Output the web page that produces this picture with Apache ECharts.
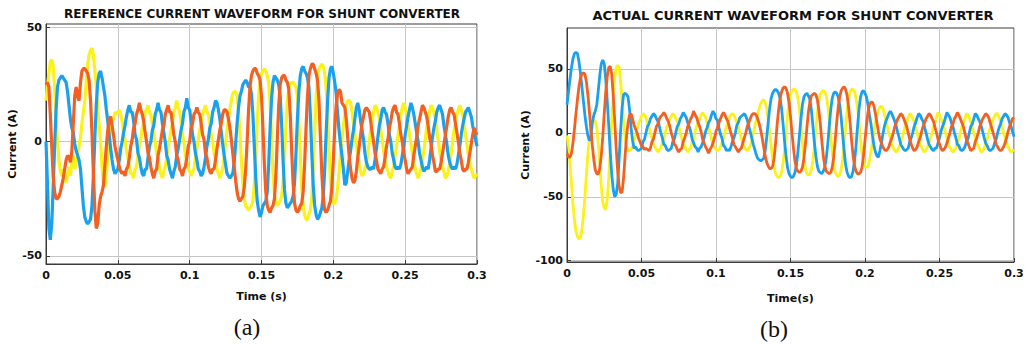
<!DOCTYPE html>
<html>
<head>
<meta charset="utf-8">
<title>Shunt converter current waveforms</title>
<script src="https://cdn.jsdelivr.net/npm/echarts@6/dist/echarts.min.js"></script>
<style>
  html, body { margin: 0; padding: 0; background: #fff; }
  #chart { width: 1027px; height: 344px; }
</style>
</head>
<body>
<div id="chart"></div>
<script>
// samples every 1 ms from 0 to 0.3 s
var timeStep = 0.001;
var timeTicks = [0, 0.05, 0.1, 0.15, 0.2, 0.25, 0.3];
var refTicks = [-50, 0, 50];
var actTicks = [-100, -50, 0, 50];

// (a) reference current
var refBlue = [
  0, -18, -38, -43, -36, -20, -2, 14, 24, 27,
  28, 29, 28, 27, 26, 22, 16, 10, 6, 4,
  -1, -4, -6, -8, -12, -20, -28, -33, -35, -36,
  -35, -34, -28, -15, 2, 16, 26, 30, 31, 28,
  24, 20, 14, 9, 3, -3, -8, -12, -14, -13,
  -12, -8, -3, 0, 4, 7, 11, 14, 16, 13,
  13, 9, 3, 1, -5, -7, -11, -14, -15, -12,
  -12, -7, -2, 0, 5, 7, 12, 14, 17, 14,
  13, 8, 4, 0, -6, -8, -12, -14, -16, -13,
  -11, -6, -3, 1, 5, 8, 13, 15, 19, 15,
  14, 9, 3, 0, -5, -8, -12, -13, -15, -14,
  -11, -7, -2, 1, 6, 8, 13, 15, 18, 17,
  14, 10, 4, -1, -6, -10, -14, -15, -16, -15,
  -14, -9, -1, 8, 15, 20, 22, 25, 26, 27,
  26, 24, 24, 21, 12, -2, -16, -26, -30, -33,
  -31, -28, -27, -26, -22, -10, 6, 19, 26, 29,
  28, 27, 25, 20, 8, -8, -21, -27, -29, -28,
  -27, -26, -24, -18, -5, 10, 22, 29, 32, 33,
  31, 30, 28, 24, 12, -5, -19, -28, -32, -34,
  -33, -31, -29, -24, -12, 4, 18, 28, 32, 33,
  30, 26, 21, 12, 5, -1, -6, -12, -19, -18,
  -13, -8, -4, 1, 5, 10, 15, 17, 14, 9,
  5, 1, -5, -9, -11, -12, -12, -11, -12, -8,
  -3, 2, 7, 10, 14, 15, 13, 12, 8, 3,
  0, -5, -8, -11, -12, -11, -12, -10, -6, -2,
  3, 7, 11, 14, 17, 15, 12, 8, 4, 0,
  -5, -8, -11, -13, -12, -11, -12, -8, -3, 2,
  6, 9, 13, 15, 16, 14, 12, 7, 3, -1,
  -6, -9, -11, -12, -11, -12, -10, -6, -2, 3,
  7, 10, 13, 14, 15, 13, 11, 7, 4, 1,
  -2
];
var refOrange = [
  25, 26, 24, 12, -2, -15, -22, -25, -25, -24,
  -22, -19, -16, -12, -8, -6, -7, -9, -4, 8,
  20, 24, 20, 18, 26, 31, 32, 32, 31, 30,
  27, 18, 4, -14, -30, -38, -36, -28, -24, -22,
  -19, -10, -2, 5, 10, 11, 7, 3, -2, -5,
  -8, -11, -13, -14, -13, -15, -12, -11, -7, -2,
  1, 6, 8, 12, 14, 17, 14, 12, 9, 4,
  0, -5, -7, -11, -14, -16, -13, -12, -6, -3,
  1, 5, 7, 12, 14, 16, 13, 13, 8, 3,
  0, -6, -8, -12, -13, -15, -12, -11, -7, -2,
  0, 6, 8, 12, 13, 15, 13, 12, 8, 3,
  1, -5, -7, -11, -13, -14, -12, -12, -8, -3,
  1, 5, 8, 12, 14, 14, 13, 10, 6, 1,
  -5, -11, -17, -22, -25, -26, -25, -24, -20, -12,
  0, 14, 24, 29, 31, 32, 32, 30, 29, 27,
  20, 6, -10, -22, -28, -30, -31, -29, -28, -25,
  -15, 1, 16, 25, 28, 29, 29, 27, 26, 23,
  12, -4, -18, -27, -30, -31, -30, -28, -27, -22,
  -10, 6, 20, 29, 32, 34, 34, 32, 30, 27,
  18, 2, -14, -25, -30, -31, -30, -28, -26, -20,
  -8, 6, 16, 21, 23, 22, 17, 16, 15, 10,
  2, -6, -12, -16, -18, -17, -13, -7, -2, 3,
  8, 11, 14, 15, 14, 13, 9, 4, 0, -5,
  -8, -12, -13, -14, -12, -11, -7, -2, 1, 6,
  9, 13, 15, 16, 13, 12, 8, 3, 0, -5,
  -8, -12, -14, -13, -12, -11, -6, -2, 2, 7,
  10, 13, 16, 15, 13, 11, 7, 2, -1, -6,
  -9, -13, -13, -12, -12, -9, -5, -1, 3, 7,
  11, 14, 15, 13, 12, 8, 4, 0, -5, -8,
  -12, -13, -12, -12, -9, -5, -1, 3, 6, 4,
  3
];
var refYellow = [
  18, 24, 30, 35, 36, 33, 24, 10, 0, -8,
  -13, -15, -12, -16, -18, -14, -11, -15, -9, -6,
  -12, -9, -5, -2, 2, 8, 13, 18, 26, 34,
  38, 40, 41, 38, 31, 24, 15, 7, 0, -11,
  -19, -20, -14, -7, 0, 5, 9, 10, 13, 12,
  13, 14, 12, 9, 4, 1, -4, -7, -11, -14,
  -14, -16, -12, -11, -6, -2, 1, 6, 8, 13,
  14, 16, 13, 12, 8, 3, 0, -5, -7, -12,
  -14, -16, -13, -11, -7, -2, 1, 5, 8, 13,
  15, 18, 15, 13, 9, 3, 0, -6, -8, -12,
  -13, -15, -13, -12, -7, -3, 1, 5, 8, 12,
  14, 16, 13, 12, 8, 3, 0, -5, -8, -12,
  -14, -16, -14, -12, -7, -1, 5, 10, 14, 18,
  21, 22, 22, 20, 14, 4, -8, -18, -25, -28,
  -29, -30, -29, -28, -26, -19, -7, 8, 20, 27,
  30, 31, 32, 31, 29, 26, 17, 2, -13, -23,
  -27, -28, -27, -26, -24, -18, -7, 7, 18, 23,
  25, 26, 26, 25, 24, 20, 9, -6, -20, -28,
  -32, -34, -34, -32, -30, -25, -12, 4, 19, 28,
  32, 33, 34, 33, 30, 24, 12, -4, -17, -25,
  -27, -27, -25, -20, -13, -6, 1, 7, 12, 16,
  18, 18, 17, 13, 8, 3, -2, -6, -10, -13,
  -15, -14, -12, -10, -5, 0, 5, 9, 13, 16,
  15, 13, 10, 5, 1, -4, -8, -11, -13, -15,
  -16, -13, -11, -6, -2, 3, 7, 12, 15, 17,
  15, 12, 8, 3, -1, -5, -9, -12, -14, -16,
  -14, -12, -8, -4, 1, 6, 9, 13, 16, 15,
  13, 10, 5, 1, -4, -8, -11, -13, -16, -15,
  -13, -9, -5, 0, 5, 8, 12, 14, 16, 14,
  12, 8, 3, -1, -6, -9, -12, -14, -16, -15,
  -14
];

// (b) actual current
var actBlue = [
  22, 32, 42, 51, 58, 62, 63, 62, 56, 47,
  36, 25, 14, 5, -2, -6, -4, 8, 14, 17,
  22, 33, 45, 54, 57, 54, 42, 25, 6, -15,
  -32, -44, -50, -48, -40, -20, 2, 20, 30, 31,
  30, 28, 18, 4, -6, -12, -11, -13, -14, -13,
  -12, -7, -5, 0, 5, 7, 11, 13, 15, 14,
  11, 9, 5, 0, -4, -9, -10, -13, -14, -13,
  -12, -7, -5, 0, 5, 7, 11, 13, 16, 14,
  12, 8, 5, 1, -5, -8, -11, -12, -15, -12,
  -11, -8, -4, 1, 4, 8, 10, 14, 17, 15,
  11, 10, 4, -1, -4, -10, -11, -14, -13, -14,
  -11, -7, -4, 0, 6, 8, 12, 13, 14, 15,
  13, 10, 5, 1, -4, -9, -13, -17, -20, -21,
  -22, -21, -20, -14, -4, 8, 19, 27, 31, 33,
  34, 33, 31, 27, 19, 7, -6, -18, -27, -32,
  -34, -35, -34, -31, -25, -15, -2, 11, 22, 28,
  30, 31, 29, 26, 18, 6, -7, -18, -26, -30,
  -31, -32, -30, -27, -20, -9, 5, 18, 27, 31,
  32, 31, 28, 22, 12, -1, -14, -25, -31, -34,
  -35, -34, -30, -22, -10, 5, 19, 28, 32, 33,
  31, 28, 22, 14, 7, -2, -10, -15, -18, -19,
  -14, -8, -1, 5, 9, 12, 15, 17, 15, 12,
  9, 5, 0, -4, -9, -11, -13, -14, -13, -12,
  -7, -4, 0, 5, 8, 12, 15, 14, 11, 9,
  4, 0, -5, -9, -11, -13, -14, -12, -12, -8,
  -4, 1, 5, 8, 12, 16, 14, 12, 8, 5,
  0, -4, -9, -10, -13, -14, -13, -11, -7, -5,
  0, 5, 7, 11, 15, 14, 11, 9, 5, 1,
  -4, -8, -10, -13, -14, -13, -12, -8, -5, 0,
  4, 7, 11, 13, 15, 14, 12, 8, 5, 1,
  -3
];
var actOrange = [
  -16, -19, -19, -16, -8, 3, 15, 26, 36, 43,
  46, 47, 46, 40, 30, 17, 3, -10, -21, -29,
  -32, -32, -28, -18, -3, 15, 32, 44, 51, 52,
  46, 30, 10, -12, -30, -42, -47, -46, -35, -18,
  -2, 8, 14, 15, 11, 6, 3, 0, -4, -7,
  -10, -11, -13, -12, -13, -14, -12, -7, -5, 0,
  5, 7, 11, 13, 14, 16, 14, 11, 9, 5,
  0, -4, -9, -10, -13, -15, -13, -12, -7, -4,
  0, 5, 8, 11, 13, 17, 14, 12, 8, 5,
  1, -5, -8, -11, -13, -16, -13, -11, -8, -4,
  1, 4, 8, 11, 14, 16, 14, 11, 9, 4,
  0, -4, -9, -11, -13, -15, -13, -12, -8, -4,
  0, 5, 8, 11, 14, 15, 15, 14, 11, 7,
  2, -4, -11, -18, -23, -26, -28, -28, -26, -20,
  -8, 6, 18, 27, 32, 35, 36, 35, 31, 24,
  13, 0, -12, -22, -28, -30, -31, -30, -27, -20,
  -9, 4, 16, 24, 29, 30, 31, 30, 26, 18,
  7, -6, -18, -26, -30, -31, -32, -31, -27, -19,
  -6, 8, 20, 28, 33, 35, 36, 34, 29, 20,
  8, -6, -18, -26, -30, -32, -32, -31, -27, -18,
  -6, 6, 16, 22, 24, 24, 21, 15, 8, 1,
  -5, -8, -11, -13, -14, -13, -11, -7, -4, 0,
  5, 8, 11, 13, 15, 14, 11, 8, 5, 0,
  -5, -9, -12, -14, -13, -11, -7, -4, 1, 5,
  8, 11, 13, 15, 14, 11, 9, 4, 0, -5,
  -9, -12, -14, -13, -11, -8, -4, 0, 5, 7,
  11, 13, 16, 14, 11, 8, 5, 0, -5, -8,
  -11, -14, -13, -12, -7, -4, 0, 5, 8, 11,
  13, 15, 14, 12, 8, 4, 0, -4, -9, -11,
  -13, -14, -13, -11, -8, -4, 1, 5, 8, 11,
  12
];
var actYellow = [
  -2, -10, -24, -40, -56, -68, -77, -81, -83, -82,
  -76, -65, -50, -33, -17, -4, 4, 9, 10, 9,
  4, -8, -25, -42, -54, -59, -60, -52, -36, -15,
  8, 28, 43, 51, 53, 51, 40, 24, 8, -4,
  -11, -14, -14, -13, -10, -6, -2, 3, 7, 10,
  13, 15, 14, 12, 8, 5, 0, -4, -9, -11,
  -13, -15, -13, -12, -7, -5, 0, 5, 7, 11,
  13, 15, 14, 11, 9, 5, 0, -4, -9, -10,
  -13, -15, -13, -12, -7, -5, 1, 5, 8, 11,
  14, 16, 14, 12, 8, 4, 0, -5, -9, -11,
  -13, -14, -13, -11, -8, -4, 0, 5, 8, 12,
  14, 15, 14, 11, 8, 5, 0, -4, -8, -11,
  -13, -14, -12, -10, -6, -1, 5, 10, 15, 19,
  23, 25, 26, 24, 19, 11, 1, -10, -20, -27,
  -32, -34, -35, -34, -31, -24, -13, 0, 13, 24,
  30, 33, 34, 34, 32, 27, 18, 6, -8, -20,
  -28, -32, -33, -32, -29, -22, -11, 2, 15, 25,
  30, 32, 33, 32, 29, 22, 11, -2, -15, -25,
  -31, -33, -34, -33, -29, -21, -9, 5, 18, 27,
  32, 34, 34, 32, 27, 19, 8, -5, -16, -23,
  -26, -27, -26, -22, -15, -7, 1, 8, 14, 18,
  20, 21, 19, 15, 10, 5, 0, -4, -9, -12,
  -14, -15, -13, -11, -7, -4, 1, 5, 8, 12,
  15, 14, 11, 9, 4, 0, -5, -9, -11, -14,
  -15, -13, -11, -7, -4, 0, 5, 8, 12, 16,
  14, 11, 8, 5, 0, -4, -9, -11, -14, -15,
  -13, -12, -7, -5, 0, 5, 7, 11, 15, 14,
  12, 8, 5, 0, -4, -9, -10, -13, -15, -14,
  -12, -8, -5, 0, 4, 7, 11, 13, 15, 15,
  12, 9, 5, 0, -4, -8, -11, -13, -15, -14,
  -13
];

(function() {
  var blue = '#1ba0ee';
  var orange = '#f45f22';
  var yellow = '#faf21a';
  var ink = '#111';
  var gridColor = '#c6c6c6';
  var frame = '#3a3a3a';
  var bold = 'DejaVu Sans';

  function points(arr) {
    return arr.map(function(v, i) { return [+(i * timeStep).toFixed(3), v]; });
  }
  function wave(name, arr, color, idx, width) {
    return {
      name: name, type: 'line', xAxisIndex: idx, yAxisIndex: idx,
      data: points(arr), symbol: 'none', silent: true,
      lineStyle: { color: color, width: width }, itemStyle: { color: color }
    };
  }
  function xAxis(idx, name, gap) {
    return {
      type: 'value', gridIndex: idx, min: 0, max: 0.3, interval: 0.05,
      name: name, nameLocation: 'middle', nameGap: gap,
      nameTextStyle: { color: ink, fontFamily: bold, fontWeight: 'bold', fontSize: 11 },
      axisLine: { onZero: false, lineStyle: { color: frame } },
      axisTick: { inside: true, length: 4, lineStyle: { color: frame } },
      axisLabel: {
        color: ink, fontFamily: bold, fontWeight: 'bold', fontSize: 11, margin: 6,
        formatter: function(v) { return String(+v.toFixed(2)); }
      },
      splitLine: { show: true, lineStyle: { color: gridColor } }
    };
  }
  function yAxis(idx, min, max, ticks, gap) {
    return {
      type: 'value', gridIndex: idx, min: min, max: max,
      name: 'Current (A)', nameLocation: 'middle', nameGap: gap,
      nameTextStyle: { color: ink, fontFamily: bold, fontWeight: 'bold', fontSize: 11 },
      axisLine: { onZero: false, lineStyle: { color: frame } },
      axisTick: { inside: true, length: 4, customValues: ticks, lineStyle: { color: frame } },
      axisLabel: { customValues: ticks, color: ink, fontFamily: bold, fontWeight: 'bold', fontSize: 11, margin: 4 },
      splitLine: { show: true, lineStyle: { color: gridColor } }
    };
  }
  function label(text, x, y, font) {
    return {
      type: 'text', x: x, y: y, silent: true,
      style: { text: text, font: font, fill: ink, textAlign: 'center', textVerticalAlign: 'middle' }
    };
  }

  var chart = echarts.init(document.getElementById('chart'), null, { renderer: 'svg' });
  chart.setOption({
    animation: false,
    backgroundColor: '#fff',
    grid: [
      { left: 46, top: 24, width: 431, height: 240, show: true, borderColor: frame, borderWidth: 1, backgroundColor: '#fff' },
      { left: 567, top: 28, width: 447, height: 234, show: true, borderColor: frame, borderWidth: 1, backgroundColor: '#fff' }
    ],
    xAxis: [xAxis(0, 'Time (s)', 27), xAxis(1, 'Time(s)', 31)],
    yAxis: [yAxis(0, -53.6, 51.6, refTicks, 26), yAxis(1, -101, 82, actTicks, 36)],
    series: [
      wave('Phase C', refYellow, yellow, 0, 3.2),
      wave('Phase A', refBlue, blue, 0, 3.2),
      wave('Phase B', refOrange, orange, 0, 3.2),
      wave('Phase C', actYellow, yellow, 1, 2.8),
      wave('Phase A', actBlue, blue, 1, 2.8),
      wave('Phase B', actOrange, orange, 1, 2.8)
    ],
    graphic: [
      label('REFERENCE CURRENT WAVEFORM FOR SHUNT CONVERTER', 262, 14, 'bold 12px "DejaVu Sans"'),
      label('ACTUAL CURRENT WAVEFORM FOR SHUNT CONVERTER', 793, 15, 'bold 13px "DejaVu Sans"'),
      label('(a)', 247, 327, '24px "Liberation Serif"'),
      label('(b)', 774, 329, '24px "Liberation Serif"')
    ]
  });
  window.addEventListener('resize', function() { chart.resize(); });
})();
</script>
</body>
</html>
